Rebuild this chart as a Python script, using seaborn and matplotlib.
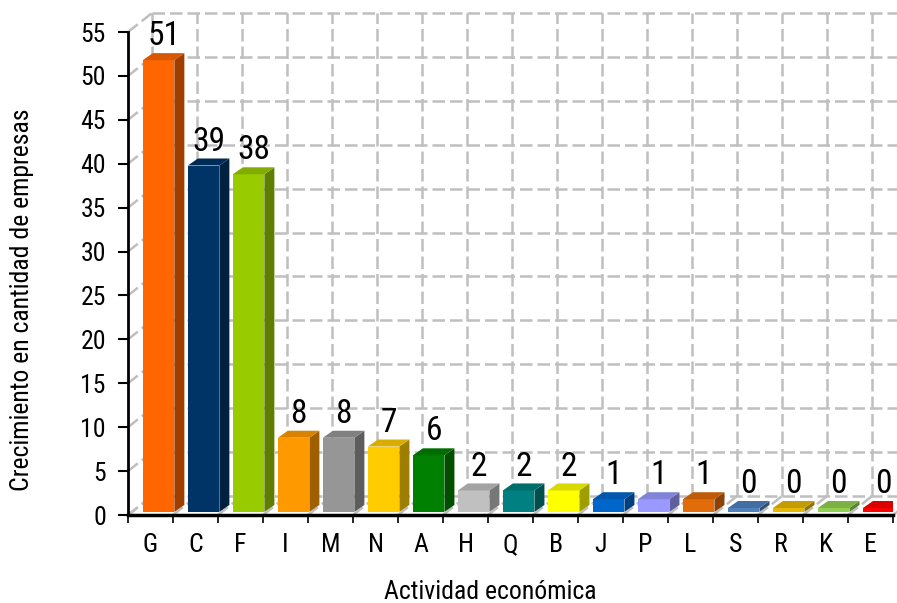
import matplotlib
matplotlib.use("Agg")
import matplotlib.pyplot as plt
from matplotlib.patches import Polygon
from matplotlib.colors import to_rgb
import seaborn as sns
import numpy as np

actividades = ["G", "C", "F", "I", "M", "N", "A", "H", "Q", "B", "J", "P", "L", "S", "R", "K", "E"]
crecimiento = [51, 39, 38, 8, 8, 7, 6, 2, 2, 2, 1, 1, 1, 0, 0, 0, 0]
colores = ["#FF6600", "#003366", "#99CC00", "#FF9900", "#969696", "#FFCC00", "#008000",
           "#C0C0C0", "#008080", "#FFFF00", "#0066CC", "#9999FF", "#E26B0A", "#4F81BD",
           "#E6B800", "#92D050", "#FF0000"]
y_ticks = list(range(0, 56, 5))

sns.set_style("white")
plt.rcParams["font.family"] = ["Roboto Condensed", "DejaVu Sans"]
plt.rcParams["text.color"] = "black"
plt.rcParams["xtick.color"] = "black"
plt.rcParams["ytick.color"] = "black"

fig = plt.figure(figsize=(8.97, 6.03), dpi=100)
ax = fig.add_axes([0.1427, 0.1459, 0.853, 0.801])

sns.barplot(x=actividades, y=crecimiento, hue=actividades, palette=colores, legend=False,
            width=0.7, saturation=1, linewidth=0, ax=ax, zorder=3)

n = len(actividades)
ax.set_xlim(-0.5, n - 0.5)
ax.set_ylim(0, 55)

# pixel -> data units, for the fake 3d look
(x0p, y0p), (x1p, y1p) = ax.transData.transform([(0, 0), (1, 1)])
px_x = x1p - x0p
px_y = y1p - y0p
wall_dx, wall_dy = 24 / px_x, 19 / px_y   # back wall offset
bar_dx, bar_dy = 10 / px_x, 7 / px_y      # bar depth

# back wall grid
grid_kw = dict(color="#BFBFBF", lw=1.8, ls=(0, (5, 2)), zorder=0, clip_on=False)
for v in y_ticks:
    ax.plot([-0.5 + wall_dx, n - 0.5 + wall_dx], [v + wall_dy, v + wall_dy], **grid_kw)
    ax.plot([-0.5, -0.5 + wall_dx], [v, v + wall_dy], **grid_kw)
for b in np.arange(-0.5, n, 1):
    ax.plot([b + wall_dx, b + wall_dx], [wall_dy, 55 + wall_dy], **grid_kw)
    ax.plot([b, b + wall_dx], [0, wall_dy], **grid_kw)

# make the bars look 3d
for p, v, c in zip(ax.patches, crecimiento, colores):
    p.set_x(p.get_x() + 0.18)
    p.set_y(0.35)
    p.set_height(v + 0.45)
    x0 = p.get_x()
    w = p.get_width()
    top = p.get_y() + p.get_height()
    rgb = np.array(to_rgb(c))
    side = Polygon([(x0 + w, 0.35), (x0 + w, top), (x0 + w + bar_dx, top + bar_dy),
                    (x0 + w + bar_dx, 0.35 + bar_dy)], closed=True,
                   facecolor=rgb * 0.62, edgecolor="none", zorder=3)
    cap = Polygon([(x0, top), (x0 + w, top), (x0 + w + bar_dx, top + bar_dy),
                   (x0 + bar_dx, top + bar_dy)], closed=True,
                  facecolor=rgb * 0.85, edgecolor="none", zorder=3)
    ax.add_patch(side)
    ax.add_patch(cap)
    ax.text(x0 + (w + bar_dx) / 2, top + bar_dy + 0.1, str(v), ha="center", va="bottom",
            fontsize=24, color="black", zorder=4, clip_on=False)

ax.set_yticks(y_ticks)
ax.tick_params(axis="y", length=7, width=1.5, direction="out", labelsize=18.5, pad=9,
               left=True)
ax.tick_params(axis="x", which="major", length=0, labelsize=18.5, pad=13)
ax.set_xticks(np.arange(-0.5, n, 1), minor=True)
ax.tick_params(axis="x", which="minor", length=6, width=1.2, direction="out", bottom=True)

sns.despine(ax=ax)
ax.spines["left"].set_linewidth(2)
ax.spines["left"].set_color("black")
ax.spines["bottom"].set_linewidth(2.5)
ax.spines["bottom"].set_color("black")
ax.set_xlabel("")
ax.set_ylabel("")

fig.text(490 / 897, 1 - 592 / 603, "Actividad económica", ha="center", va="center", fontsize=18.5)
fig.text(22 / 897, 1 - 300 / 603, "Crecimiento en cantidad de empresas", ha="center",
         va="center", rotation=90, fontsize=18.5)

fig.savefig("out.png", dpi=100)
